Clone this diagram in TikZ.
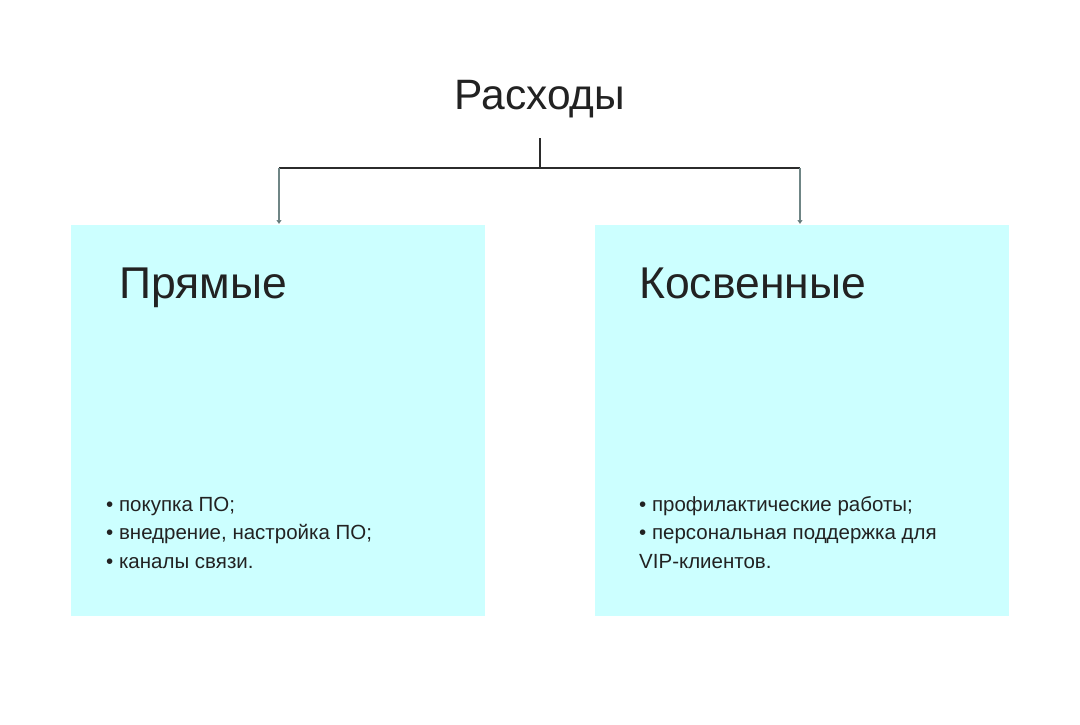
\documentclass[tikz,border=0pt]{standalone}
\usepackage{fontspec}
\setmainfont{Liberation Sans}
\usetikzlibrary{arrows.meta}
\definecolor{boxfill}{HTML}{CCFFFF}
\definecolor{txt}{HTML}{222222}
\definecolor{ln}{HTML}{2B2B2B}
\definecolor{lnside}{HTML}{6F8585}
\begin{document}
\begin{tikzpicture}[x=1pt,y=-1pt,
  panel/.style={fill=boxfill,draw=none},
  head/.style={font=\fontsize{44.5}{48}\selectfont,text=txt,inner sep=0pt,anchor=base west},
  items/.style={font=\fontsize{20.5}{28.5}\selectfont,text=txt,inner sep=0pt,align=left,anchor=base west},
  conn/.style={line width=1.2pt,draw=ln},
  sideconn/.style={line width=1.4pt,draw=lnside,-{Triangle[width=5pt,length=4pt,fill=ln]}}]
\useasboundingbox[fill=white] (0,0) rectangle (1080,724);
\fill[panel] (71,225) rectangle (485,616);
\fill[panel] (595,225) rectangle (1009,616);
\node[head,font=\fontsize{42.5}{48}\selectfont,anchor=base] (title) at (540,109) {Расходы};
\node[head] (left) at (119,298) {Прямые};
\node[head] (right) at (639,298) {Косвенные};
\coordinate (top) at (540,138);
\coordinate (mid) at (540,168);
\coordinate (lt) at (279,168);
\coordinate (rt) at (800,168);
\coordinate (lb) at (279,224);
\coordinate (rb) at (800,224);
\draw[conn] (top) -- (mid);
\draw[conn] (lt) -- (rt);
\draw[sideconn] (lt) -- (lb);
\draw[sideconn] (rt) -- (rb);
\node[items] (litems) at (106,568) {• покупка ПО;\\• внедрение, настройка ПО;\\• каналы связи.};
\node[items] (ritems) at (639,568) {• профилактические работы;\\• персональная поддержка для\\VIP-клиентов.};
\end{tikzpicture}
\end{document}
